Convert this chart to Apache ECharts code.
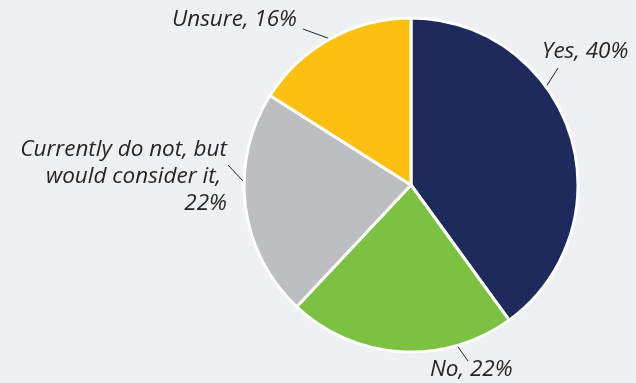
<!DOCTYPE html>
<html>
<head>
<meta charset="utf-8">
<script src="https://cdn.jsdelivr.net/npm/echarts@6/dist/echarts.min.js"></script>
<style>
  html, body { margin: 0; padding: 0; background: #eff0f2; }
  #chart { width: 636px; height: 383px; }
</style>
</head>
<body>
<div id="chart"></div>
<script>
// Survey answers, share of respondents (%)
const categories = ['Yes', 'No', 'Currently do not, but\nwould consider it', 'Unsure'];
const shares = [40, 22, 22, 16];
const sliceColors = ['#1f2a5c', '#7dc142', '#bdbec0', '#fdc010'];

// Where each callout sits: text anchor, alignment, angle (deg clockwise from 12 o'clock)
// where the leader leaves the rim, and the leader's outer end.
const callouts = [
  { x: 542, y: 52, align: 'left', rimAngle: 54, end: [558, 68] },
  { x: 430, y: 370, align: 'left', rimAngle: 164, end: [468, 361] },
  { x: 227, y: 177, align: 'right', rimAngle: 271, end: [228, 165] },
  { x: 297, y: 20, align: 'right', rimAngle: 331, end: [303, 29] }
];

const center = [411, 185];
const radius = 167;

const chart = echarts.init(document.getElementById('chart'), null, { renderer: 'canvas' });

chart.setOption({
  backgroundColor: '#eff0f2',
  animation: false,
  series: [{
    type: 'pie',
    center: center,
    radius: radius,
    startAngle: 90,
    clockwise: true,
    data: categories.map((name, i) => ({
      name: name,
      value: shares[i],
      itemStyle: { color: sliceColors[i] }
    })),
    itemStyle: { borderColor: '#ffffff', borderWidth: 3 },
    label: {
      show: true,
      position: 'outside',
      overflow: 'none',
      formatter: p => p.name + ', ' + (p.dataIndex === 2 ? '\n' : '') + p.value + '%',
      fontFamily: 'Open Sans',
      fontStyle: 'italic',
      fontSize: 22.5,
      lineHeight: 27,
      color: '#262626'
    },
    labelLine: { show: true, length: 10, length2: 0, lineStyle: { color: '#262626', width: 1 } },
    labelLayout: function (params) {
      const c = callouts[params.dataIndex];
      const a = c.rimAngle * Math.PI / 180;
      const rim = [center[0] + radius * Math.sin(a), center[1] - radius * Math.cos(a)];
      return {
        x: c.x,
        y: c.y,
        align: c.align,
        verticalAlign: 'middle',
        width: 300,
        labelLinePoints: [rim, c.end]
      };
    }
  }]
});
</script>
</body>
</html>
